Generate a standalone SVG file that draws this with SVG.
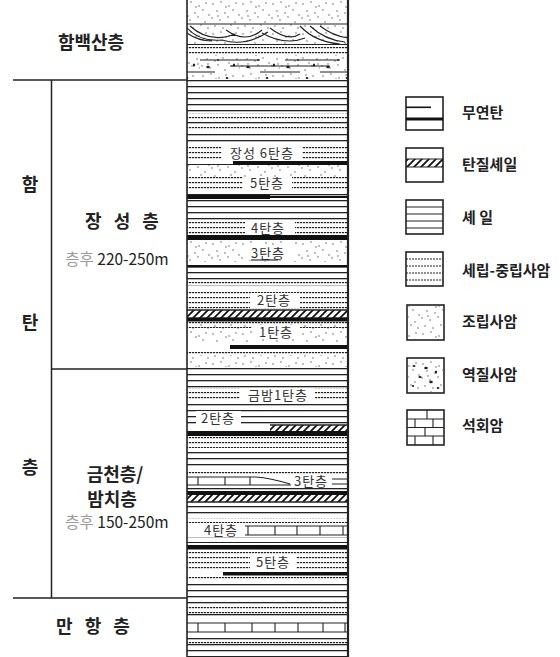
<svg xmlns="http://www.w3.org/2000/svg" width="560" height="657" viewBox="0 0 560 657">
<style>
.t{font-family:"Noto Sans CJK KR","Noto Sans",sans-serif}
.h{font-size:18px;font-weight:700;fill:#222}
.sp{letter-spacing:4px}
.lg{font-size:15px;font-weight:700;fill:#222}
.lb{font-size:13px;fill:#333;letter-spacing:1px}
.th{font-size:15.5px;fill:#222}
.gr{fill:#9a9a9a}
.ln{stroke:#222;stroke-width:1.5;fill:none}
.thin{stroke:#222;stroke-width:1.1;fill:none}
.coal{fill:#111}
.wb{fill:#fff}
.box{fill:#fff;stroke:#222;stroke-width:1.6}
</style>
<defs>
  <!-- shale: plain horizontal laminae -->
  <pattern id="sh" patternUnits="userSpaceOnUse" width="8" height="6">
    <rect x="0" y="2" width="8" height="1.3" fill="#222"/>
  </pattern>
  <!-- fine/medium sandstone: broken laminae -->
  <pattern id="fn" patternUnits="userSpaceOnUse" width="3" height="5">
    <rect x="0" y="2" width="2.2" height="1.2" fill="#222"/>
  </pattern>
  <!-- coarse sandstone: stipple -->
  <pattern id="co" patternUnits="userSpaceOnUse" width="30" height="30">
    <g fill="#444">
      <circle cx="3" cy="4" r="0.65"/><circle cx="11" cy="2" r="0.65"/><circle cx="19" cy="6" r="0.65"/>
      <circle cx="26" cy="3" r="0.65"/><circle cx="7" cy="11" r="0.65"/><circle cx="15" cy="13" r="0.65"/>
      <circle cx="23" cy="10" r="0.65"/><circle cx="29" cy="15" r="0.65"/><circle cx="2" cy="18" r="0.65"/>
      <circle cx="10" cy="20" r="0.65"/><circle cx="18" cy="17" r="0.65"/><circle cx="25" cy="22" r="0.65"/>
      <circle cx="5" cy="26" r="0.65"/><circle cx="13" cy="28" r="0.65"/><circle cx="21" cy="25" r="0.65"/>
      <circle cx="28" cy="28" r="0.65"/><circle cx="16" cy="7" r="0.65"/><circle cx="8" cy="16" r="0.65"/>
    </g>
  </pattern>
  <!-- pebbly sandstone: stipple with pebbles -->
  <pattern id="cg" patternUnits="userSpaceOnUse" width="40" height="24">
    <rect width="40" height="24" fill="url(#co)"/>
    <g fill="#222">
      <ellipse cx="8" cy="19" rx="1.8" ry="1.2"/><ellipse cx="27" cy="6" rx="1.4" ry="1"/>
      <ellipse cx="34" cy="17" rx="1.2" ry="1.6"/><circle cx="18" cy="12" r="0.9"/>
    </g>
  </pattern>
  <!-- carbonaceous shale hatch -->
  <pattern id="hs" patternUnits="userSpaceOnUse" width="7" height="7">
    <path d="M0,7 L7,0 M-1,1 L1,-1 M6,8 L8,6" stroke="#111" stroke-width="1.8"/>
  </pattern>
</defs>

<!-- formation frame on the left -->
<g id="frame">
  <line class="ln" x1="13" y1="80" x2="187" y2="80"/>
  <line class="ln" x1="51.5" y1="80" x2="51.5" y2="598"/>
  <line class="ln" x1="51.5" y1="369" x2="187" y2="369"/>
  <line class="ln" x1="13" y1="598" x2="187" y2="598"/>
</g>

<g id="formations" class="t">
  <text class="h" x="91" y="49" text-anchor="middle">함백산층</text>
  <text class="h" x="30" y="191" text-anchor="middle">함</text>
  <text class="h" x="30" y="329" text-anchor="middle">탄</text>
  <text class="h" x="30" y="474" text-anchor="middle">층</text>
  <text class="h sp" x="124" y="228" text-anchor="middle">장 성 층</text>
  <text class="th" x="117" y="265" text-anchor="middle"><tspan class="gr">층후</tspan> 220-250m</text>
  <text class="h" x="115" y="481" text-anchor="middle">금천층/</text>
  <text class="h" x="112" y="506" text-anchor="middle">밤치층</text>
  <text class="th" x="117" y="528" text-anchor="middle"><tspan class="gr">층후</tspan> 150-250m</text>
  <text class="h sp" x="95" y="633" text-anchor="middle">만 항 층</text>
</g>

<!-- lithologic column -->
<g id="column">
  <rect x="187" y="0" width="161" height="45" fill="url(#co)"/>
  <rect x="187" y="45" width="161" height="10" fill="url(#fn)"/>
  <rect x="187" y="55" width="161" height="24" fill="url(#cg)"/>
  <rect x="187" y="79" width="161" height="34" fill="url(#sh)"/>
  <rect x="187" y="113" width="161" height="6" fill="url(#fn)"/>
  <rect x="187" y="119" width="161" height="8" fill="url(#sh)"/>
  <rect x="187" y="127" width="161" height="5" fill="url(#fn)"/>
  <rect x="187" y="132" width="161" height="13" fill="url(#sh)"/>
  <rect x="187" y="145" width="161" height="15" fill="url(#fn)"/>
  <rect x="187" y="160" width="161" height="5" fill="url(#sh)"/>
  <rect x="187" y="165" width="161" height="12" fill="url(#co)"/>
  <rect x="187" y="177" width="161" height="15" fill="url(#fn)"/>
  <rect x="187" y="192" width="161" height="28" fill="url(#sh)"/>
  <rect x="187" y="220" width="161" height="14" fill="url(#fn)"/>
  <rect x="187" y="240" width="161" height="22" fill="url(#co)"/>
  <rect x="187" y="262" width="161" height="18" fill="url(#sh)"/>
  <rect x="187" y="280" width="161" height="5" fill="url(#fn)"/>
  <rect x="187" y="285" width="161" height="5" fill="url(#sh)"/>
  <rect x="187" y="290" width="161" height="19" fill="url(#fn)"/>
  <rect x="187" y="322" width="161" height="20" fill="url(#co)"/>
  <rect x="187" y="322" width="161" height="6" fill="url(#fn)"/>
  <rect x="187" y="350" width="161" height="5" fill="url(#fn)"/>
  <rect x="187" y="355" width="161" height="12" fill="url(#co)"/>
  <rect x="187" y="367" width="161" height="21" fill="url(#sh)"/>
  <rect x="187" y="388" width="161" height="14" fill="url(#fn)"/>
  <rect x="187" y="402" width="161" height="24" fill="url(#sh)"/>
  <rect x="187" y="436" width="161" height="12" fill="url(#fn)"/>
  <rect x="187" y="448" width="161" height="22" fill="url(#sh)"/>
  <rect x="187" y="470" width="161" height="4" fill="url(#fn)"/>
  <rect x="187" y="487" width="161" height="5" fill="url(#sh)"/>
  <rect x="187" y="502" width="161" height="16" fill="url(#sh)"/>
  <rect x="187" y="518" width="161" height="5" fill="url(#fn)"/>
  <rect x="187" y="537" width="161" height="6" fill="url(#sh)"/>
  <rect x="187" y="550" width="161" height="20" fill="url(#fn)"/>
  <rect x="187" y="577" width="161" height="5" fill="url(#fn)"/>
  <rect x="187" y="582" width="161" height="23" fill="url(#sh)"/>
  <rect x="187" y="605" width="161" height="9" fill="url(#fn)"/>
  <rect x="187" y="614" width="161" height="6" fill="url(#sh)"/>
  <rect x="187" y="634" width="161" height="6" fill="url(#sh)"/>
  <rect x="187" y="640" width="161" height="4" fill="url(#fn)"/>
  <rect x="187" y="644" width="161" height="13" fill="url(#sh)"/>

  <!-- cross-bedded unit near the top -->
  <path class="thin" d="M187,24 L348,24 M187,28 Q200,42 222,40 M187,33 Q198,41 212,41 M190,26 Q210,44 235,34 M222,40 Q245,47 268,32 M226,30 Q246,44 262,30 M262,33 Q285,46 305,38 M270,28 Q288,42 300,34 M300,26 Q315,42 340,44 M310,26 Q325,40 345,42 M320,26 Q333,36 348,38 M187,44.5 L348,44.5"/>
  <!-- pebbly unit laminae -->
  <path class="thin" d="M200,60 H260 M285,60 H340 M230,66 H330 M187,72 H215 M260,72 H300 M320,72 H348"/>

  <!-- carbonaceous shale bands -->
  <rect x="187" y="310" width="161" height="8" fill="url(#hs)"/>
  <path class="ln" d="M187,310 H348 M187,318 H348"/>
  <rect x="270" y="425" width="78" height="6" fill="url(#hs)"/>
  <path class="ln" d="M270,425 H348"/>
  <rect x="187" y="495" width="161" height="7" fill="url(#hs)"/>
  <path class="ln" d="M187,502 H348"/>

  <!-- coal seams -->
  <rect class="coal" x="233" y="161" width="115" height="4"/>
  <rect class="coal" x="187" y="195" width="83" height="4"/>
  <rect class="coal" x="270" y="196" width="78" height="2"/>
  <rect class="coal" x="187" y="235" width="161" height="5"/>
  <rect class="coal" x="187" y="265" width="161" height="2.5"/>
  <rect class="coal" x="187" y="318" width="161" height="3.5"/>
  <rect class="coal" x="230" y="345" width="118" height="4"/>
  <rect class="coal" x="187" y="431" width="161" height="5"/>
  <rect class="coal" x="187" y="491" width="161" height="4"/>
  <rect class="coal" x="187" y="545" width="161" height="4.5"/>
  <rect class="coal" x="223" y="572" width="125" height="3.5"/>

  <!-- limestone beds -->
  <rect class="wb" x="187" y="474" width="161" height="13"/>
  <path class="thin" d="M187,477 H256 M187,485 H292 M198,477 V485 M225,477 V485 M250,477 V485 M256,477 Q270,478 290,484 M332,479 H348 M332,484 H348"/>
  <rect class="wb" x="245" y="523" width="103" height="14"/>
  <path class="thin" d="M245,526 H348 M245,535 H348 M248,526 V535 M275,526 V535 M297,526 V535 M320,526 V535 M343,526 V535"/>
  <rect class="wb" x="187" y="620" width="161" height="14"/>
  <path class="thin" d="M187,623 H348 M187,632 H348 M198,623 V632 M225,623 V632 M252,623 V632 M275,623 V632 M298,623 V632 M323,623 V632 M345,623 V632"/>

  <!-- column borders -->
  <line x1="187" y1="0" x2="187" y2="657" stroke="#222" stroke-width="1.6"/>
  <line x1="348" y1="0" x2="348" y2="657" stroke="#222" stroke-width="2.2"/>
</g>

<!-- seam labels -->
<g id="seams" class="t">
  <rect class="wb" x="222" y="146" width="80" height="14"/>
  <text class="lb" x="262" y="158" text-anchor="middle">장성 6탄층</text>
  <rect class="wb" x="243" y="177" width="49" height="14"/>
  <text class="lb" x="267" y="188" text-anchor="middle">5탄층</text>
  <rect class="wb" x="245" y="221" width="50" height="13"/>
  <text class="lb" x="268" y="233" text-anchor="middle">4탄층</text>
  <rect class="wb" x="245" y="245" width="50" height="15"/>
  <text class="lb" x="268" y="258" text-anchor="middle">3탄층</text>
  <line class="thin" x1="251" y1="260" x2="278" y2="260"/>
  <rect class="wb" x="250" y="293" width="50" height="15"/>
  <text class="lb" x="274" y="305" text-anchor="middle">2탄층</text>
  <rect class="wb" x="252" y="325" width="48" height="14"/>
  <text class="lb" x="276" y="337" text-anchor="middle">1탄층</text>
  <rect class="wb" x="240" y="388" width="75" height="15"/>
  <text class="lb" x="278" y="400" text-anchor="middle">금밤1탄층</text>
  <rect class="wb" x="196" y="411" width="45" height="14"/>
  <text class="lb" x="218" y="423" text-anchor="middle">2탄층</text>
  <rect class="wb" x="291" y="474" width="40" height="14"/>
  <text class="lb" x="311" y="486" text-anchor="middle">3탄층</text>
  <rect class="wb" x="197" y="523" width="48" height="14"/>
  <text class="lb" x="221" y="535" text-anchor="middle">4탄층</text>
  <rect class="wb" x="250" y="555" width="46" height="15"/>
  <text class="lb" x="273" y="567" text-anchor="middle">5탄층</text>
</g>

<!-- legend -->
<g id="legend-anthracite">
  <rect class="box" x="406" y="97" width="37" height="33"/>
  <rect class="coal" x="406" y="106.5" width="25" height="1.6"/>
  <rect class="coal" x="406" y="117.5" width="37" height="3"/>
  <text class="t lg" x="462" y="118">무연탄</text>
</g>
<g id="legend-carbshale">
  <rect class="box" x="406" y="148" width="37" height="34"/>
  <rect x="406" y="159" width="37" height="8" fill="url(#hs)"/>
  <path class="thin" d="M406,159 H443 M406,167 H443"/>
  <text class="t lg" x="462" y="170">탄질셰일</text>
</g>
<g id="legend-shale">
  <rect class="box" x="406" y="200" width="37" height="34"/>
  <path class="thin" d="M406,207 H443 M406,214 H443 M406,221 H443 M406,228 H443"/>
  <text class="t lg" x="462" y="223">셰 일</text>
</g>
<g id="legend-finesand">
  <rect class="box" x="406" y="252" width="37" height="34"/>
  <path class="thin" d="M406,259 H443 M406,266 H443 M406,273 H443 M406,280 H443" stroke-dasharray="2 1"/>
  <text class="t lg" x="462" y="276">세립-중립사암</text>
</g>
<g id="legend-coarsesand">
  <rect class="box" x="407" y="305" width="37" height="35"/>
  <rect x="408" y="306" width="35" height="33" fill="url(#co)"/>
  <text class="t lg" x="462" y="327">조립사암</text>
</g>
<g id="legend-pebblysand">
  <rect class="box" x="407" y="358" width="37" height="35"/>
  <rect x="408" y="359" width="35" height="33" fill="url(#co)"/>
  <g fill="#222">
    <ellipse cx="414" cy="366" rx="1.5" ry="1"/><ellipse cx="426" cy="368" rx="1.8" ry="1.2"/>
    <ellipse cx="436" cy="372" rx="1.2" ry="1.5"/><ellipse cx="420" cy="377" rx="1.6" ry="1.1"/>
    <ellipse cx="431" cy="382" rx="1.8" ry="1.2"/><ellipse cx="413" cy="386" rx="1.2" ry="1"/>
    <ellipse cx="438" cy="388" rx="1.4" ry="1"/>
  </g>
  <text class="t lg" x="462" y="380">역질사암</text>
</g>
<g id="legend-limestone">
  <rect class="box" x="407" y="410" width="37" height="35"/>
  <path class="thin" d="M407,419 H444 M407,427.5 H444 M407,436 H444 M427,410 V419 M415,419 V427.5 M433,419 V427.5 M425,427.5 V436 M415,436 V445 M433,436 V445"/>
  <text class="t lg" x="462" y="431">석회암</text>
</g>
</svg>
